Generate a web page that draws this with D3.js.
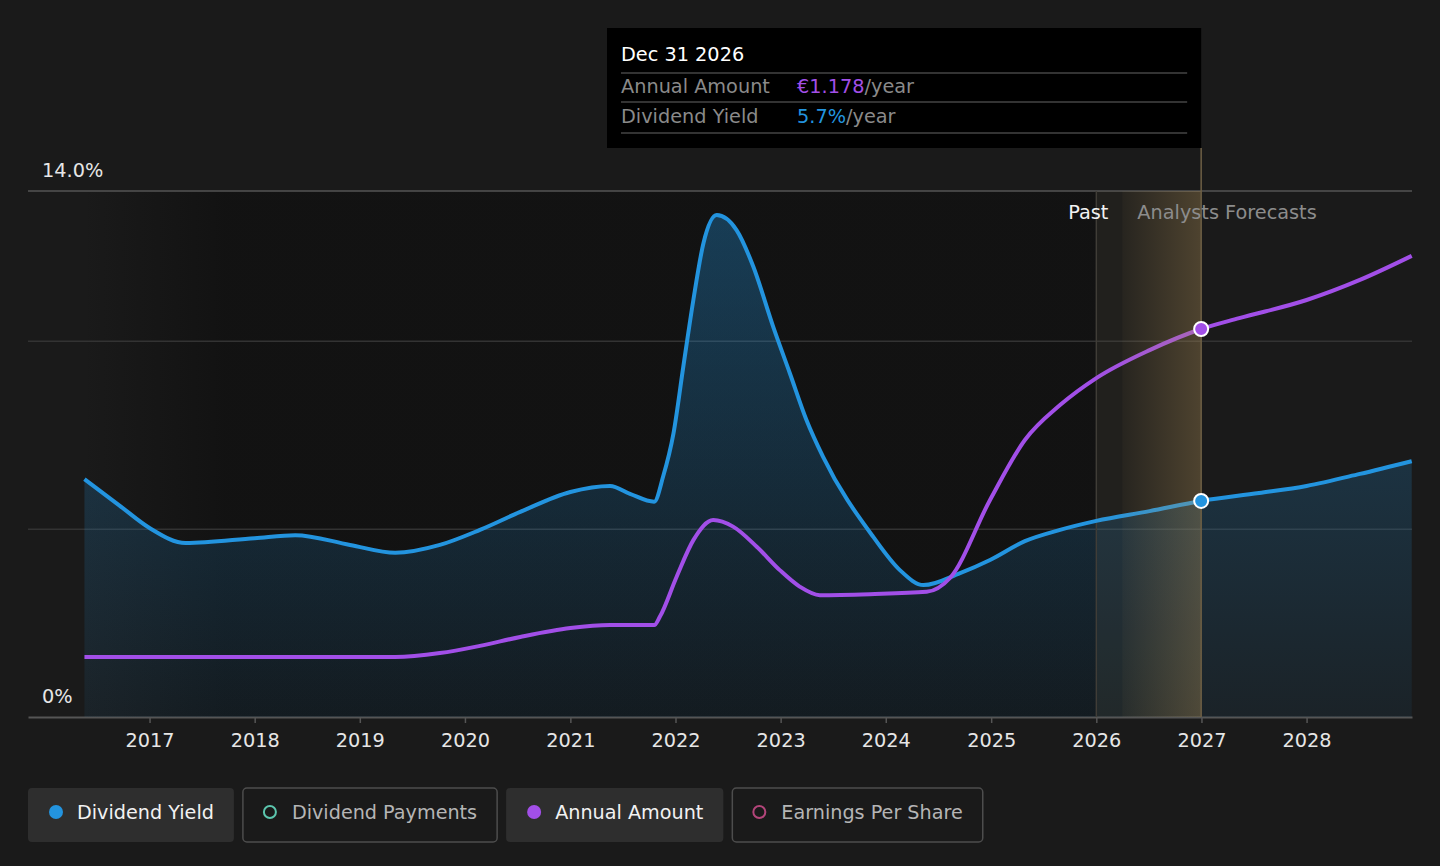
<!DOCTYPE html>
<html>
<head>
<meta charset="utf-8">
<script src="https://cdn.jsdelivr.net/npm/d3@7"></script>
<style>
  body { margin: 0; background: #1a1a1a; }
  svg text { font-family: "DejaVu Sans", sans-serif; }
</style>
</head>
<body>
<div id="chart"></div>
<script>
// dividend yield (%)
const yieldDates = ["2016-05-20","2016-09-20","2017-01-01","2017-05-06","2018-01-01","2018-05-22","2018-11-28",
  "2019-05-04","2019-10-06","2020-02-22","2020-07-11","2021-01-01","2021-05-19","2021-07-27","2021-10-19",
  "2021-11-19","2021-12-25","2022-01-28","2022-03-04","2022-04-08","2022-05-24","2022-08-01","2022-09-28",
  "2022-12-06","2023-02-02","2023-04-01","2023-05-28","2023-11-18","2024-02-19","2024-05-11",
  "2024-09-15","2024-12-28","2025-04-28","2025-08-28","2026-01-01","2026-07-05","2026-12-31","2027-07-20",
  "2028-01-01","2028-07-04","2028-12-31"];
const yieldValues = [6.33,5.62,5.03,4.63,4.76,4.84,4.58,
  4.37,4.58,4.98,5.46,5.99,6.15,5.94,5.73,
  6.40,7.55,9.32,11.10,12.61,13.36,12.96,11.99,
  10.39,9.15,7.90,6.93,4.80,3.91,3.51,
  3.83,4.18,4.68,4.98,5.22,5.48,5.75,5.96,
  6.15,6.47,6.81];

// annual amount (EUR per year)
const amountDates = ["2016-05-20","2018-01-01","2019-05-04","2019-10-06","2020-02-22","2020-07-11","2021-01-01",
  "2021-05-19","2021-10-19","2021-11-08","2022-01-05","2022-03-04","2022-05-12","2022-07-20","2022-10-10",
  "2022-12-29","2023-03-08","2023-05-17","2023-11-07","2024-05-22","2024-08-11","2024-12-28","2025-04-28",
  "2025-08-28","2026-01-01","2026-07-05","2026-12-31","2027-05-12","2028-01-01","2028-07-04","2028-12-31"];
const amountValues = [0.182,0.182,0.182,0.194,0.216,0.243,0.270,
  0.279,0.279,0.305,0.426,0.537,0.598,0.578,0.517,
  0.446,0.396,0.370,0.373,0.380,0.422,0.659,0.841,
  0.947,1.029,1.114,1.178,1.211,1.266,1.327,1.400];

const yearTicks = [2017,2018,2019,2020,2021,2022,2023,2024,2025,2026,2027,2028];
const yTicks = [0, 14];
const yGrid = [5, 10];
const legendLabels = ["Dividend Yield","Dividend Payments","Annual Amount","Earnings Per Share"];
const legendActive = [true, false, true, false];
const legendColors = ["#2394df","#5cc6ae","#a24fe8","#b3457a"];
const tooltipTitle = "Dec 31 2026";
const tooltipRows = [["Annual Amount","€1.178","/year"],["Dividend Yield","5.7%","/year"]];
const hoverDate = "2026-12-31";
const pastEnd = "2026-01-01";

const width = 1440, height = 866,
    margin = ({ top: 191, right: 28, bottom: 149, left: 28 });

const blue = "#2394df", purple = "#a24fe8";
const fs = 19.3; // text size used everywhere

const svg = d3.select("#chart")
    .append("svg")
    .attr("width", width)
    .attr("height", height);

const parse = d3.utcParse("%Y-%m-%d");
const yieldData = yieldDates.map((d, i) => ({ date: parse(d), value: yieldValues[i] }));
const amountData = amountDates.map((d, i) => ({ date: parse(d), value: amountValues[i] }));

let x = d3.scaleUtc()
    .domain([new Date(Date.UTC(2015, 10, 6)), new Date(Date.UTC(2029, 0, 1))])
    .range([margin.left, width - margin.right]);

let y = d3.scaleLinear()
    .domain([0, 14])
    .range([height - margin.bottom, margin.top]);

// annual amount sits on its own scale
let yAmt = d3.scaleLinear()
    .domain([0, 1.597])
    .range([height - margin.bottom, margin.top]);

const defs = svg.append("defs");

const areaGrad = defs.append("linearGradient")
    .attr("id", "areaGrad").attr("gradientUnits", "userSpaceOnUse")
    .attr("x1", 0).attr("x2", 0).attr("y1", y(14)).attr("y2", y(0));
areaGrad.append("stop").attr("offset", 0).attr("stop-color", blue).attr("stop-opacity", 0.34);
areaGrad.append("stop").attr("offset", 1).attr("stop-color", blue).attr("stop-opacity", 0.07);

const pastGrad = defs.append("linearGradient")
    .attr("id", "pastGrad").attr("gradientUnits", "userSpaceOnUse")
    .attr("x1", x(yieldData[0].date)).attr("x2", x(yieldData[0].date) + 140).attr("y1", 0).attr("y2", 0);
pastGrad.append("stop").attr("offset", 0).attr("stop-color", "#111").attr("stop-opacity", 0);
pastGrad.append("stop").attr("offset", 1).attr("stop-color", "#111").attr("stop-opacity", 0.85);

const bandGrad = defs.append("linearGradient")
    .attr("id", "bandGrad").attr("x1", 0).attr("x2", 1).attr("y1", 0).attr("y2", 0);
bandGrad.append("stop").attr("offset", 0).attr("stop-color", "#b8955a").attr("stop-opacity", 0.04);
bandGrad.append("stop").attr("offset", 1).attr("stop-color", "#b8955a").attr("stop-opacity", 0.30);

const xPast = x(parse(pastEnd)), xHover = x(parse(hoverDate));
const yTop = y(14), yBottom = y(0);

// darker "past" background
svg.append("rect")
    .attr("x", x(yieldData[0].date)).attr("y", yTop)
    .attr("width", xPast - x(yieldData[0].date)).attr("height", yBottom - yTop)
    .attr("fill", "url(#pastGrad)");

// grid lines
svg.append("g")
  .selectAll("line")
  .data(yGrid)
  .join("line")
    .attr("x1", margin.left).attr("x2", width - margin.right)
    .attr("y1", d => y(d)).attr("y2", d => y(d))
    .attr("stroke", "#333").attr("stroke-width", 1.5);

svg.append("line")
    .attr("x1", margin.left).attr("x2", width - margin.right)
    .attr("y1", yTop).attr("y2", yTop)
    .attr("stroke", "#555").attr("stroke-width", 1.5);

// x axis
const xAxis = svg.append("g")
    .attr("transform", `translate(0,${yBottom})`)
    .call(d3.axisBottom(x)
        .tickValues(yearTicks.map(v => new Date(Date.UTC(v, 0, 1))))
        .tickFormat(d3.utcFormat("%Y"))
        .tickSize(6).tickPadding(10).tickSizeOuter(0));
xAxis.select(".domain").attr("stroke", "#555").attr("stroke-width", 2);
xAxis.selectAll(".tick line").attr("stroke", "#555").attr("stroke-width", 1.5);
xAxis.selectAll(".tick text").attr("fill", "#e6e6e6").attr("font-size", fs)
    .attr("font-family", "DejaVu Sans");

// y labels
svg.append("g")
  .selectAll("text")
  .data(yTicks)
  .join("text")
    .attr("x", 42)
    .attr("y", d => y(d) - 14)
    .attr("fill", "#e6e6e6")
    .attr("font-size", fs)
    .text(d => d === 0 ? "0%" : d.toFixed(1) + "%");

// area + lines
let area = d3.area()
    .curve(d3.curveMonotoneX)
    .x(d => x(d.date))
    .y0(yBottom)
    .y1(d => y(d.value));

svg.append("path")
    .datum(yieldData)
    .attr("d", area)
    .attr("fill", "url(#areaGrad)");

// past/forecast divider
svg.append("line")
    .attr("x1", xPast).attr("x2", xPast).attr("y1", yTop).attr("y2", yBottom)
    .attr("stroke", "#3c3a36").attr("stroke-width", 1.5);

let yieldLine = d3.line().curve(d3.curveMonotoneX).x(d => x(d.date)).y(d => y(d.value));
let amountLine = d3.line().curve(d3.curveMonotoneX).x(d => x(d.date)).y(d => yAmt(d.value));

svg.append("path")
    .datum(yieldData)
    .attr("d", yieldLine)
    .attr("fill", "none").attr("stroke", blue).attr("stroke-width", 4);

svg.append("path")
    .datum(amountData)
    .attr("d", amountLine)
    .attr("fill", "none").attr("stroke", purple).attr("stroke-width", 4);

// forecast band overlay
svg.append("rect")
    .attr("x", xPast).attr("y", yTop)
    .attr("width", xHover - xPast).attr("height", yBottom - yTop)
    .attr("fill", "#b8955a").attr("fill-opacity", 0.05);
svg.append("rect")
    .attr("x", xPast + 26).attr("y", yTop)
    .attr("width", xHover - xPast - 26).attr("height", yBottom - yTop)
    .attr("fill", "url(#bandGrad)");

svg.append("line")
    .attr("x1", xHover).attr("x2", xHover).attr("y1", 148).attr("y2", yBottom)
    .attr("stroke", "#6e5f45").attr("stroke-width", 1.5);

// Past / Analysts Forecasts
svg.append("text")
    .attr("x", xPast + 12).attr("y", 219)
    .attr("text-anchor", "end")
    .attr("fill", "#f2f2f2").attr("font-size", fs)
    .text("Past");
svg.append("text")
    .attr("x", xPast + 41).attr("y", 219)
    .attr("fill", "#8c8c8c").attr("font-size", fs)
    .text("Analysts Forecasts");

// hover points
const hd = parse(hoverDate);
const hy = yieldData.find(d => +d.date === +hd);
const ha = amountData.find(d => +d.date === +hd);
svg.append("circle").attr("cx", x(ha.date)).attr("cy", yAmt(ha.value)).attr("r", 7)
    .attr("fill", purple).attr("stroke", "#fff").attr("stroke-width", 2);
svg.append("circle").attr("cx", x(hy.date)).attr("cy", y(hy.value)).attr("r", 7)
    .attr("fill", blue).attr("stroke", "#fff").attr("stroke-width", 2);

// tooltip
const tip = svg.append("g");
const tipLeft = 607, tipRight = xHover;
tip.append("rect").attr("x", tipLeft).attr("y", 28)
    .attr("width", tipRight - tipLeft).attr("height", 120).attr("fill", "#000");
tip.append("text").attr("x", tipLeft + 14).attr("y", 61)
    .attr("fill", "#fff").attr("font-size", fs).text(tooltipTitle);
[73, 102, 133].forEach(ly => {
  tip.append("line").attr("x1", tipLeft + 14).attr("x2", tipRight - 14)
      .attr("y1", ly).attr("y2", ly).attr("stroke", "#444").attr("stroke-width", 1.5);
});
tooltipRows.forEach((r, i) => {
  const by = 93 + i * 30;
  tip.append("text").attr("x", tipLeft + 14).attr("y", by)
      .attr("fill", "#8a8a8a").attr("font-size", fs).text(r[0]);
  const t = tip.append("text").attr("x", 797).attr("y", by).attr("font-size", fs);
  t.append("tspan").attr("fill", i === 0 ? purple : blue).text(r[1]);
  t.append("tspan").attr("fill", "#8a8a8a").text(r[2]);
});

// legend
const legend = svg.append("g");
let lx = 28;
legendLabels.forEach((lab, i) => {
  const g = legend.append("g");
  const rect = g.append("rect").attr("x", lx).attr("y", 788).attr("height", 54).attr("rx", 4)
      .attr("fill", legendActive[i] ? "#2e2e2e" : "#1a1a1a")
      .attr("stroke", legendActive[i] ? "none" : "#4d4d4d").attr("stroke-width", 1.5);
  if (legendActive[i]) {
    g.append("circle").attr("cx", lx + 28).attr("cy", 812).attr("r", 7).attr("fill", legendColors[i]);
  } else {
    g.append("circle").attr("cx", lx + 27).attr("cy", 812).attr("r", 6)
        .attr("fill", "none").attr("stroke", legendColors[i]).attr("stroke-width", 2);
  }
  const t = g.append("text").attr("x", lx + 49).attr("y", 819)
      .attr("font-size", 19.2)
      .attr("fill", legendActive[i] ? "#f2f2f2" : "#b5b5b5")
      .text(lab);
  const w = 49 + t.node().getComputedTextLength() + 20;
  rect.attr("width", w);
  lx += w + 9;
});
</script>
</body>
</html>
